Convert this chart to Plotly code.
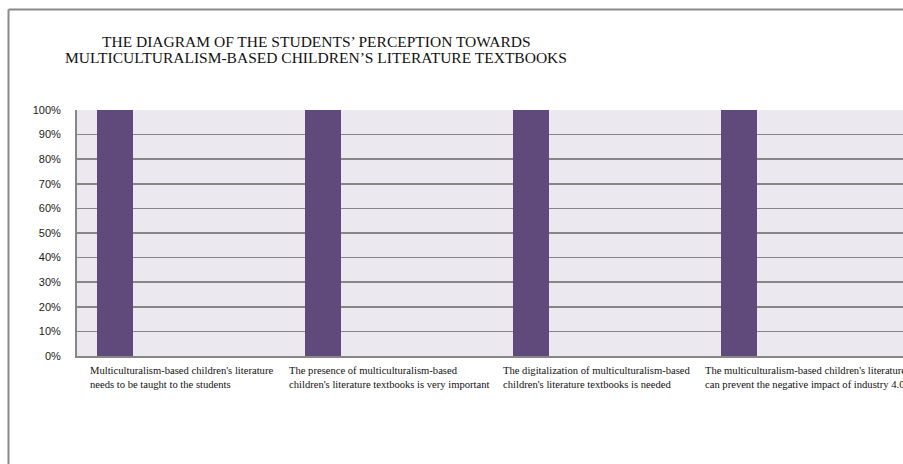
import plotly.graph_objects as go

categories = [
    "Multiculturalism-based children's literature<br>needs to be taught to the students",
    "The presence of multiculturalism-based<br>children's literature textbooks is very important",
    "The digitalization of multiculturalism-based<br>children's literature textbooks is needed",
    "The multiculturalism-based children's literature<br>can prevent the negative impact of industry 4.0",
]
values = [1.0, 1.0, 1.0, 1.0]
y_ticks = [0, 0.1, 0.2, 0.3, 0.4, 0.5, 0.6, 0.7, 0.8, 0.9, 1.0]
y_tick_labels = ["0%", "10%", "20%", "30%", "40%", "50%", "60%", "70%", "80%", "90%", "100%"]
title_lines = [
    "THE DIAGRAM OF THE STUDENTS\u2019 PERCEPTION TOWARDS",
    "MULTICULTURALISM-BASED CHILDREN\u2019S LITERATURE TEXTBOOKS",
]

W, H = 903, 464
L, R, T = 77, 0, 110
B = H - 356
PW = W - L - R
PH = H - T - B
band = 208.0


def px_x(sx):
    return (sx - L) / PW


def px_y(sy):
    return (H - B - sy) / PH


xs = list(range(len(categories)))
fig = go.Figure()
fig.add_trace(go.Bar(
    x=xs, y=values,
    marker=dict(color="#604a7b", line=dict(width=0)),
    width=36 / band,
    offset=(97 - (77 + band / 2)) / band,
    showlegend=False,
    hoverinfo="skip",
))

grid = "#868686"
fig.update_layout(
    width=W, height=H,
    margin=dict(l=L, r=R, t=T, b=B, pad=0),
    paper_bgcolor="white",
    plot_bgcolor="#ebe9ef",
    xaxis=dict(
        range=[-0.5, -0.5 + PW / band],
        showticklabels=False, ticks="", showgrid=False, zeroline=False,
        showline=True, linecolor=grid, linewidth=2,
        fixedrange=True,
    ),
    yaxis=dict(
        range=[0, 1.0], tickvals=y_ticks, ticktext=y_tick_labels,
        showgrid=True, gridcolor=grid, gridwidth=1.5,
        zeroline=False, showline=True, linecolor=grid, linewidth=2,
        ticks="", ticklabelstandoff=12,
        tickfont=dict(family="Liberation Sans", size=11, color="#1a1a1a"),
        fixedrange=True,
    ),
    font=dict(family="Liberation Serif"),
)

# title (two lines, tight spacing)
for line, sy in zip(title_lines, [41, 57]):
    fig.add_annotation(
        x=px_x(316), y=px_y(sy), xref="paper", yref="paper",
        text=line, showarrow=False,
        xanchor="center", yanchor="middle", align="center",
        font=dict(family="Liberation Serif", size=15.5, color="#111111"),
    )

# category labels
for i, c in enumerate(categories):
    fig.add_annotation(
        x=i, y=px_y(363), xref="x", yref="paper",
        text=c, showarrow=False, xanchor="center", yanchor="top", align="left",
        font=dict(family="Liberation Serif", size=10.6, color="#111111"),
    )

# outer chart border (cropped on right/bottom)
border = "#8a8a8a"
fig.add_shape(type="line", xref="paper", yref="paper",
              x0=px_x(8.5), x1=px_x(920), y0=px_y(9.5), y1=px_y(9.5),
              line=dict(color=border, width=2))
fig.add_shape(type="line", xref="paper", yref="paper",
              x0=px_x(8.5), x1=px_x(8.5), y0=px_y(9.5), y1=px_y(480),
              line=dict(color=border, width=2))

fig.write_html(
    "out.html",
    config={"displayModeBar": False, "staticPlot": True},
    post_script="document.body.style.margin='0';document.body.style.overflow='hidden';",
)
